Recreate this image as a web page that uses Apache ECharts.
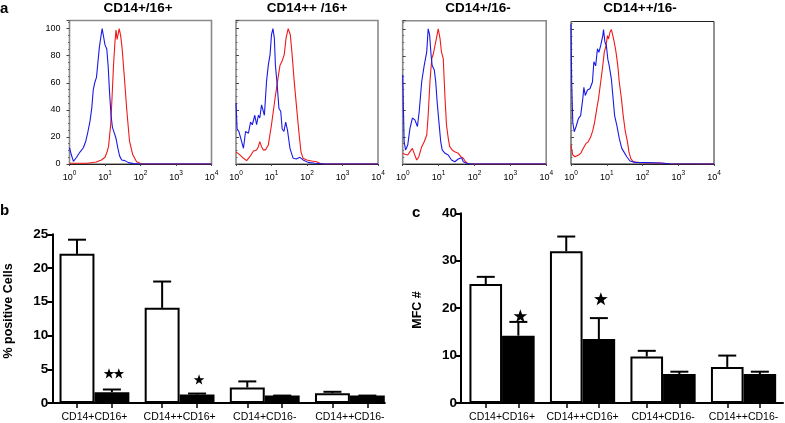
<!DOCTYPE html>
<html><head><meta charset="utf-8">
<script src="https://cdn.jsdelivr.net/npm/echarts@6/dist/echarts.min.js"></script>
<style>html,body{margin:0;padding:0;background:#fff}#c{width:785px;height:423px}</style>
</head><body><div id="c"></div>
<script>
// ---------- Panel a: histograms (x = log10 fluorescence exponent, y = % of max) ----------
const histTitles = ['CD14+/16+', 'CD14++ /16+', 'CD14+/16-', 'CD14++/16-'];
const xExponents = [0, 1, 2, 3, 4];
const yTicksA = [0, 20, 40, 60, 80, 100];

const a1Red = [[0,0.5],[0.5,0.5],[0.75,1.5],[0.9,3],[1.0,5],[1.06,9],[1.1,13],[1.16,29],[1.2,50],[1.24,73],[1.28,90],[1.31,99],[1.34,92],[1.37,96],[1.4,100],[1.44,95],[1.48,86],[1.54,66],[1.61,41],[1.69,17],[1.78,7],[1.89,1.7],[2.0,0.3],[2.1,0],[4,0]];
const a1Blue = [[0,12],[0.05,7],[0.11,2],[0.2,5],[0.3,9],[0.39,12],[0.46,17],[0.52,24],[0.58,32],[0.63,42],[0.67,55],[0.71,60],[0.76,64],[0.8,75],[0.84,86],[0.89,95],[0.92,100],[0.96,94],[1.0,88],[1.05,85],[1.09,72],[1.13,52],[1.17,36],[1.21,27],[1.26,23],[1.31,19],[1.36,12],[1.41,6],[1.47,3],[1.56,2.5],[1.66,1],[1.8,0.3],[2,0],[4,0]];

const a2Red = [[0,9],[0.11,6.7],[0.21,4.2],[0.3,2.5],[0.39,5.4],[0.49,9.6],[0.58,10.4],[0.63,12.8],[0.67,16.5],[0.72,12.8],[0.77,10.4],[0.83,10.4],[0.91,14],[1.0,29],[1.1,48.6],[1.17,61],[1.24,73],[1.3,76],[1.36,81],[1.41,93],[1.47,100],[1.53,95.5],[1.58,81],[1.64,61],[1.7,43.7],[1.77,24],[1.83,9],[1.89,4.2],[1.99,3],[2.13,2.2],[2.27,1.7],[2.36,0.5],[2.5,0],[4,0]];
const a2Blue = [[0,45],[0.03,26],[0.08,24],[0.16,16.5],[0.21,11.6],[0.27,24],[0.35,22.7],[0.41,31],[0.46,29],[0.53,36],[0.58,29],[0.63,36],[0.67,34],[0.72,43.7],[0.8,36],[0.86,61],[0.91,73],[0.96,81],[1.0,95.5],[1.04,100],[1.08,93],[1.11,73],[1.16,58.5],[1.21,41],[1.26,39],[1.3,26],[1.35,24],[1.4,31],[1.45,25],[1.52,11.6],[1.61,4.2],[1.7,3.7],[1.8,4.9],[1.89,3],[2.03,1.2],[2.22,0.5],[2.5,0],[4,0]];

const a3Red = [[0,7.9],[0.06,7.2],[0.14,6.7],[0.2,9],[0.27,11.6],[0.32,7.9],[0.39,3],[0.45,5.4],[0.53,12.8],[0.6,16.5],[0.67,21.5],[0.71,36],[0.76,61],[0.81,78],[0.85,81],[0.9,81],[0.94,93],[0.99,100],[1.04,93],[1.08,83],[1.13,78],[1.18,48.6],[1.22,29],[1.27,19],[1.31,12.8],[1.38,10.4],[1.45,9],[1.55,7.9],[1.62,5.4],[1.69,4.2],[1.75,1.7],[1.82,0.2],[2.01,0],[4,0]];
const a3Blue = [[0,66],[0.04,16.5],[0.08,10.4],[0.14,14],[0.2,26],[0.27,34],[0.34,32.6],[0.41,27.7],[0.46,38.8],[0.53,61],[0.6,73],[0.67,83],[0.71,100],[0.75,95.5],[0.79,81],[0.82,73],[0.88,69.6],[0.92,61],[0.96,46],[1.01,31],[1.06,16.5],[1.1,10.4],[1.18,7.9],[1.27,6.7],[1.36,3],[1.45,1.7],[1.55,3.7],[1.64,4.7],[1.69,1.7],[1.78,0.5],[1.92,0],[4,0]];

const a4Red = [[0,14],[0.05,6.7],[0.11,5.4],[0.21,6.7],[0.27,7.9],[0.34,11.6],[0.42,15.3],[0.48,16.5],[0.55,20],[0.61,25],[0.66,31],[0.72,41],[0.77,48.6],[0.83,61],[0.88,71],[0.93,83],[0.98,88],[1.02,95.5],[1.05,93],[1.09,98],[1.13,100],[1.17,95.5],[1.21,90.6],[1.26,83],[1.31,73],[1.35,61],[1.41,48.6],[1.46,36],[1.52,24],[1.58,16.5],[1.62,9],[1.67,4.2],[1.74,1.7],[1.93,1],[2.3,0.7],[2.49,0.7],[2.77,0.2],[4,0]];
const a4Blue = [[0,104],[0.02,60],[0.05,31],[0.09,24],[0.14,27.7],[0.21,34],[0.27,36],[0.33,48.6],[0.36,57],[0.4,51],[0.46,55],[0.53,56],[0.6,61],[0.64,76],[0.69,73],[0.74,85.7],[0.78,83],[0.83,88],[0.89,95.5],[0.91,100],[0.95,90.6],[0.99,88],[1.03,78],[1.07,73],[1.13,63],[1.17,51],[1.22,36],[1.28,29],[1.35,19],[1.42,11.6],[1.48,9],[1.56,5.4],[1.65,2.2],[1.79,1.2],[2.12,1],[2.49,0.7],[2.77,0.2],[4,0]];

// ---------- Panel b: % positive cells ----------
const categories = ['CD14+CD16+', 'CD14++CD16+', 'CD14+CD16-', 'CD14++CD16-'];
const bWhite = [22.1, 14.1, 2.3, 1.45];
const bWhiteErr = [24.2, 18.0, 3.2, 1.66];
const bBlack = [1.6, 1.25, 1.1, 1.1];
const bBlackErr = [2.0, 1.4, 1.1, 1.1];
const bStarGroups = [0, 1];
const bStarValues = [4.4, 3.5];
const bStarCounts = [2, 1];
const bYTicks = [0, 5, 10, 15, 20, 25];

// ---------- Panel c: MFC ----------
const cWhite = [25.1, 32.0, 9.8, 7.6];
const cWhiteErr = [26.6, 35.1, 11.0, 10.0];
const cBlack = [14.2, 13.5, 6.1, 6.1];
const cBlackErr = [17.1, 17.9, 6.6, 6.6];
const cStarGroups = [0, 1];
const cStarValues = [18.4, 22.0];
const cStarCounts = [1, 1];
const cYTicks = [0, 10, 20, 30, 40];

// ---------- build ----------
const FONT = '"Liberation Sans", Arial, Helvetica, sans-serif';
const RED = '#f01818', BLUE = '#1a1ae6';
const histCurves = [[a1Red, a1Blue], [a2Red, a2Blue], [a3Red, a3Blue], [a4Red, a4Blue]];
const histGrids = [
  {left: 69.5, top: 20.5, width: 142, height: 143.5, border: '#8a8a8a'},
  {left: 236, top: 20.5, width: 142, height: 143.5, border: '#8a8a8a'},
  {left: 402.7, top: 20.7, width: 143.5, height: 143.3, border: '#8a8a8a'},
  {left: 571, top: 21.5, width: 143, height: 142.5, border: '#222'}
];
const titleCenters = [138, 307, 478, 640];

const grids = [], xAxes = [], yAxes = [], series = [];
histGrids.forEach((g, i) => {
  grids.push({left: g.left, top: g.top, width: g.width, height: g.height, show: true,
    borderColor: g.border, borderWidth: i === 3 ? 1 : 1.6, backgroundColor: 'transparent', containLabel: false});
  xAxes.push({gridIndex: i, type: 'value', min: xExponents[0], max: xExponents[xExponents.length - 1], interval: 1,
    axisLine: {show: true, lineStyle: {color: '#222', width: 1}},
    axisTick: {show: true, length: 2, lineStyle: {color: '#444'}},
    splitLine: {show: false},
    axisLabel: {margin: 6, color: '#000', fontFamily: FONT,
      formatter: v => '{b|10}{s|' + v + '}',
      rich: {b: {fontSize: 9, fontFamily: FONT, color: '#000', lineHeight: 12, verticalAlign: 'bottom'},
             s: {fontSize: 6.5, fontFamily: FONT, color: '#000', lineHeight: 12, verticalAlign: 'top'}}}});
  yAxes.push({gridIndex: i, type: 'value', min: 0, max: 106, interval: 20,
    axisLine: {show: false, onZero: false},
    axisTick: {show: true, inside: i !== 0, length: 3, lineStyle: {color: '#444'}},
    minorTick: {show: true, splitNumber: 4, length: 1.5, lineStyle: {color: '#666'}},
    splitLine: {show: false},
    axisLabel: {show: i === 0, margin: 9, fontSize: 9, color: '#000', fontFamily: FONT,
      formatter: v => (yTicksA.indexOf(v) >= 0 ? String(v) : '')}});
  const [red, blue] = histCurves[i];
  series.push({type: 'line', xAxisIndex: i, yAxisIndex: i, data: red, showSymbol: false, symbol: 'none',
    lineStyle: {color: RED, width: 1.1}, z: 2, silent: true, animation: false});
  series.push({type: 'line', xAxisIndex: i, yAxisIndex: i, data: blue, showSymbol: false, symbol: 'none',
    lineStyle: {color: BLUE, width: 1.1}, z: 3, silent: true, animation: false});
});

function starPoints(cx, cy, R) {
  const pts = [], r = R * 0.4;
  for (let k = 0; k < 10; k++) {
    const a = -Math.PI / 2 + k * Math.PI / 5, rr = k % 2 ? r : R;
    pts.push([cx + rr * Math.cos(a), cy + rr * Math.sin(a)]);
  }
  return pts;
}

function barPanel(idx, cfg) {
  grids.push({left: cfg.left, top: cfg.top, width: cfg.width, height: cfg.height, containLabel: false});
  const half = (1 - cfg.gap) / 4;
  const tickVals = [];
  categories.forEach((c, k) => { tickVals.push(k - half, k + half); });
  xAxes.push({gridIndex: idx, type: 'value', min: cfg.xmin, max: cfg.xmax,
    axisLine: {show: true, onZero: false, lineStyle: {color: '#000', width: 2}},
    axisTick: {show: true, length: 5, customValues: tickVals, lineStyle: {color: '#000', width: 1.5}},
    splitLine: {show: false},
    axisLabel: {customValues: categories.map((c, k) => k), margin: 9, fontSize: 10.5, color: '#000', fontFamily: FONT,
      formatter: v => categories[Math.round(v)] || ''}});
  yAxes.push({gridIndex: idx, type: 'value', min: cfg.yTicks[0], max: cfg.yTicks[cfg.yTicks.length - 1],
    interval: cfg.yTicks[1] - cfg.yTicks[0],
    axisLine: {show: true, onZero: false, lineStyle: {color: '#000', width: 2}},
    axisTick: {show: true, length: 5, lineStyle: {color: '#000', width: 2}},
    splitLine: {show: false},
    axisLabel: {margin: 4, fontSize: 13.5, fontWeight: 'bold', color: '#000', fontFamily: FONT}});
  const common = {type: 'bar', xAxisIndex: idx, yAxisIndex: idx, barGap: '0%', barCategoryGap: (cfg.gap * 100) + '%',
    animation: false, silent: true};
  series.push(Object.assign({}, common, {data: cfg.white.map((v, k) => [k, v]),
    itemStyle: {color: '#fff', borderColor: '#000', borderWidth: 2}, z: 2}));
  series.push(Object.assign({}, common, {data: cfg.black.map((v, k) => [k, v]),
    itemStyle: {color: '#000', borderColor: '#000', borderWidth: 2}, z: 2}));
  const errRender = side => function (params, api) {
    const g = api.value(0), m = api.value(1), e = api.value(2);
    const unit = api.size([1, 0])[0];
    const bw = unit * (1 - cfg.gap) / 2;
    const x = api.coord([g, 0])[0] + side * bw / 2;
    const y0 = api.coord([g, m])[1], y1 = api.coord([g, e])[1];
    return {type: 'group', children: [
      {type: 'line', shape: {x1: x, y1: y0, x2: x, y2: y1}, style: {stroke: '#000', lineWidth: 2}},
      {type: 'line', shape: {x1: x - 9, y1: y1, x2: x + 9, y2: y1}, style: {stroke: '#000', lineWidth: 2}}]};
  };
  series.push({type: 'custom', xAxisIndex: idx, yAxisIndex: idx, renderItem: errRender(-1), z: 3, silent: true, animation: false,
    data: cfg.white.map((v, k) => [k, v, cfg.whiteErr[k]])});
  series.push({type: 'custom', xAxisIndex: idx, yAxisIndex: idx, renderItem: errRender(1), z: 3, silent: true, animation: false,
    data: cfg.black.map((v, k) => [k, v, cfg.blackErr[k]])});
  series.push({type: 'custom', xAxisIndex: idx, yAxisIndex: idx, z: 4, silent: true, animation: false,
    data: cfg.starGroups.map((g, k) => [g, cfg.starValues[k], cfg.starCounts[k]]),
    renderItem: function (params, api) {
      const unit = api.size([1, 0])[0];
      const bw = unit * (1 - cfg.gap) / 2;
      const p = api.coord([api.value(0), api.value(1)]);
      const n = api.value(2), R = cfg.starR, step = R * 1.75;
      const cx0 = p[0] + bw / 2 + cfg.starDx - (n - 1) * step / 2;
      const children = [];
      for (let s = 0; s < n; s++) {
        children.push({type: 'polygon', shape: {points: starPoints(cx0 + s * step, p[1] + R * 0.1, R)}, style: {fill: '#000'}});
      }
      return {type: 'group', children: children};
    }});
}

barPanel(4, {left: 52.3, top: 234.3, width: 332.5, height: 170, xmin: -0.495, xmax: 3.41, gap: 0.18,
  yTicks: bYTicks, white: bWhite, whiteErr: bWhiteErr, black: bBlack, blackErr: bBlackErr,
  starGroups: bStarGroups, starValues: bStarValues, starCounts: bStarCounts, starR: 5.6, starDx: 2});
barPanel(5, {left: 461, top: 213.3, width: 322, height: 191, xmin: -0.51, xmax: 3.49, gap: 0.19,
  yTicks: cYTicks, white: cWhite, whiteErr: cWhiteErr, black: cBlack, blackErr: cBlackErr,
  starGroups: cStarGroups, starValues: cStarValues, starCounts: cStarCounts, starR: 7.2, starDx: 2});

const graphic = [
  {type: 'text', left: 0, top: 1, style: {text: 'a', font: 'bold 15px ' + FONT, fill: '#000'}},
  {type: 'text', left: 0, top: 203, style: {text: 'b', font: 'bold 15px ' + FONT, fill: '#000'}},
  {type: 'text', left: 412, top: 205, style: {text: 'c', font: 'bold 15px ' + FONT, fill: '#000'}},
  {type: 'text', x: 9, y: 311, rotation: Math.PI / 2,
    style: {text: '% positive Cells', font: 'bold 12.5px ' + FONT, fill: '#000', textAlign: 'center', textVerticalAlign: 'middle'}},
  {type: 'text', x: 418, y: 310, rotation: Math.PI / 2,
    style: {text: 'MFC #', font: 'bold 12.5px ' + FONT, fill: '#000', textAlign: 'center', textVerticalAlign: 'middle'}}
];
histTitles.forEach((t, i) => graphic.push({type: 'text', x: titleCenters[i], y: 8,
  style: {text: t, font: 'bold 13.5px ' + FONT, fill: '#000', textAlign: 'center', textVerticalAlign: 'middle'}}));

const chart = echarts.init(document.getElementById('c'), null, {renderer: 'canvas'});
chart.setOption({animation: false, backgroundColor: '#fff', grid: grids, xAxis: xAxes, yAxis: yAxes, series: series, graphic: graphic});
</script>
</body></html>
